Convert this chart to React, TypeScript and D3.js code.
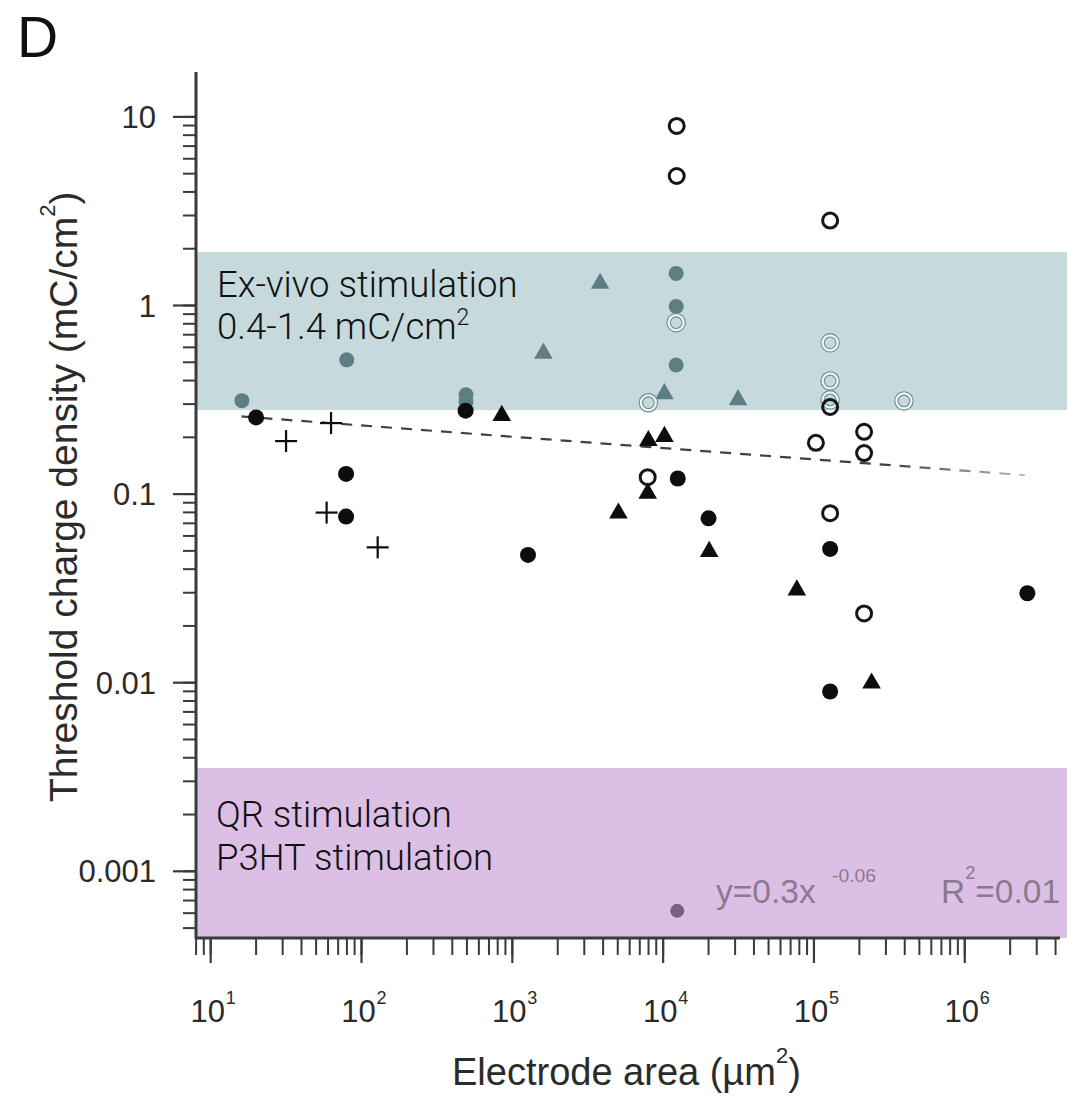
import React from "react";
import * as d3 from "d3";

const W = 1067;
const H = 1098;

// axis domains
const X_DOMAIN = [7.99, 4.28e6];
const Y_DOMAIN = [0.000443, 17.3];

const yTickValues = [10, 1, 0.1, 0.01, 0.001];
const yTickLabels = ["10", "1", "0.1", "0.01", "0.001"];
const xTickValues = [1e1, 1e2, 1e3, 1e4, 1e5, 1e6];
const xTickExponents = ["1", "2", "3", "4", "5", "6"];

// shaded ranges [low, high] in mC/cm²
const exVivoBand = [0.279, 1.92];
const qrBand = [0.000443, 0.00353];

// series: [electrode area µm², threshold mC/cm²]
const blackFilledCircles = [
  [20, 0.255], [79, 0.128], [79, 0.076], [1270, 0.0476], [490, 0.277],
  [12500, 0.121], [20000, 0.0744], [128000, 0.0512], [2.6e6, 0.0298], [128000, 0.00898],
];
const blackTriangles = [
  [851, 0.261], [7980, 0.192], [10200, 0.202], [7900, 0.101], [5050, 0.0792],
  [20200, 0.0496], [77000, 0.031], [241000, 0.00994],
];
const blackOpenCircles = [
  [12300, 8.96], [12300, 4.86], [128000, 2.82], [103000, 0.187], [215000, 0.214],
  [215000, 0.165], [7900, 0.123], [128000, 0.0792], [215000, 0.0233], [128000, 0.29],
];
const grayOpenCircles = [
  [12200, 0.811], [7980, 0.305], [128000, 0.634], [128000, 0.398], [128000, 0.316], [395000, 0.312],
];
const grayFilledCircles = [
  [16.1, 0.313], [12200, 1.48], [12200, 0.987], [12200, 0.484], [493, 0.336], [493, 0.309], [79.8, 0.515],
];
const grayTriangles = [
  [3820, 1.31], [1607, 0.558], [10190, 0.34], [31400, 0.316],
];
const plusMarks = [
  [31.6, 0.191], [62.8, 0.238], [58.7, 0.0798], [128, 0.0522],
];
const purpleCircles = [[12400, 0.000617]];

// fit line endpoints y=0.3x^-0.06
const fitLine = [[16, 0.258], [2.5e6, 0.126]];

const FONT = "'Liberation Sans', Arial, Helvetica, sans-serif";
const LIGHT = "Roboto, 'Liberation Sans', Arial, sans-serif";

export default function App() {
  const x = d3.scaleLog().domain(X_DOMAIN).range([196, 1060]);
  const y = d3.scaleLog().domain(Y_DOMAIN).range([938, 72]);

  const xMinor = x.ticks().filter((v) => x(v) >= 196 && x(v) <= 1060);
  const yMinor = y.ticks().filter((v) => y(v) >= 72 && y(v) <= 938);

  const tri = d3.symbol().type(d3.symbolTriangle).size(150)();
  const line = d3
    .line()
    .x((d) => x(d[0]))
    .y((d) => y(d[1]));

  const axisColor = "#3a3a3a";
  const textColor = "#2b2b2b";
  const gray = "#5d7f84";

  return (
    <svg width={W} height={H} style={{ display: "block", position: "absolute", left: 0, top: 0, background: "#fff" }}>
      <defs>
        <linearGradient id="fitGrad" gradientUnits="userSpaceOnUse" x1={x(3e5)} y1={0} x2={x(2.5e6)} y2={0}>
          <stop offset="0" stopColor="#404040" />
          <stop offset="1" stopColor="#bdbdbd" />
        </linearGradient>
      </defs>

      {/* panel label */}
      <text x={17} y={57} fontFamily={FONT} fontSize={57} fill="#111">D</text>

      {/* bands */}
      <rect x={197} y={y(exVivoBand[1])} width={W - 197} height={y(exVivoBand[0]) - y(exVivoBand[1])} fill="#c6d9dd" />
      <rect x={197} y={y(qrBand[1])} width={W - 197} height={y(qrBand[0]) - y(qrBand[1])} fill="#dcbfe4" />

      {/* band texts */}
      <g fontFamily={LIGHT} fontWeight={300} fontSize={36.5} fill="#111">
        <text x={217} y={297}>Ex-vivo stimulation</text>
        <text x={217} y={339}>
          0.4-1.4 mC/cm<tspan fontSize={23} dy={-14}>2</tspan>
        </text>
        <text x={216} y={827}>QR stimulation</text>
        <text x={216} y={870}>P3HT stimulation</text>
      </g>

      {/* fit line */}
      <path d={line(fitLine)} fill="none" stroke="url(#fitGrad)" strokeWidth={2.2} strokeDasharray="11 9" />

      {/* gray filled circles */}
      {grayFilledCircles.map((d, i) => (
        <circle key={"gf" + i} cx={x(d[0])} cy={y(d[1])} r={7.5} fill={gray} />
      ))}
      {/* gray triangles */}
      {grayTriangles.map((d, i) => (
        <path key={"gt" + i} d={tri} transform={`translate(${x(d[0])},${y(d[1])})`} fill={gray} />
      ))}
      {/* gray open circles */}
      {grayOpenCircles.map((d, i) => (
        <g key={"go" + i}>
          <circle cx={x(d[0])} cy={y(d[1])} r={7.5} fill="none" stroke="#6f8f93" strokeWidth={4.5} />
          <circle cx={x(d[0])} cy={y(d[1])} r={7.5} fill="none" stroke="#f2f6f6" strokeWidth={2.2} />
        </g>
      ))}
      {/* purple */}
      {purpleCircles.map((d, i) => (
        <circle key={"pu" + i} cx={x(d[0])} cy={y(d[1])} r={7} fill="#7d5f86" />
      ))}

      {/* black triangles */}
      {blackTriangles.map((d, i) => (
        <path key={"bt" + i} d={tri} transform={`translate(${x(d[0])},${y(d[1])})`} fill="#0d0d0d" />
      ))}
      {/* black filled circles */}
      {blackFilledCircles.map((d, i) => (
        <circle key={"bf" + i} cx={x(d[0])} cy={y(d[1])} r={8} fill="#0d0d0d" />
      ))}
      {/* black open circles */}
      {blackOpenCircles.map((d, i) => (
        <circle key={"bo" + i} cx={x(d[0])} cy={y(d[1])} r={7.5} fill="none" stroke="#151515" strokeWidth={3} />
      ))}
      {/* plus marks */}
      {plusMarks.map((d, i) => {
        const cx = x(d[0]);
        const cy = y(d[1]);
        return (
          <g key={"pl" + i} stroke="#0d0d0d" strokeWidth={2.2}>
            <line x1={cx - 11} x2={cx + 11} y1={cy} y2={cy} />
            <line x1={cx} x2={cx} y1={cy - 11} y2={cy + 11} />
          </g>
        );
      })}

      {/* equation */}
      <g fontFamily={FONT} fill="#8a7a90">
        <text x={716} y={903} fontSize={33} textLength={160} lengthAdjust="spacingAndGlyphs">
          y=0.3x<tspan fontSize={19} dx={16} dy={-21}>-0.06</tspan>
        </text>
        <text x={941} y={903} fontSize={33} textLength={119} lengthAdjust="spacingAndGlyphs">
          R<tspan fontSize={18} dy={-24}>2</tspan><tspan dy={24}>=0.01</tspan>
        </text>
      </g>

      {/* y axis */}
      <line x1={196} x2={196} y1={72} y2={939} stroke={axisColor} strokeWidth={3} />
      {yMinor.map((v, i) => (
        <line key={"ym" + i} x1={183} x2={196} y1={y(v)} y2={y(v)} stroke={axisColor} strokeWidth={2} />
      ))}
      {yTickValues.map((v, i) => (
        <g key={"yt" + i}>
          <line x1={173} x2={196} y1={y(v)} y2={y(v)} stroke={axisColor} strokeWidth={2.2} />
          <text x={156} y={y(v)} dy="0.36em" textAnchor="end" fontFamily={FONT} fontSize={31} fill={textColor}>
            {yTickLabels[i]}
          </text>
        </g>
      ))}

      {/* x axis */}
      <line x1={195} x2={1060} y1={938} y2={938} stroke={axisColor} strokeWidth={3} />
      {xMinor.map((v, i) => (
        <line key={"xm" + i} x1={x(v)} x2={x(v)} y1={938} y2={955} stroke={axisColor} strokeWidth={2} />
      ))}
      {xTickValues.map((v, i) => (
        <g key={"xt" + i}>
          <line x1={x(v)} x2={x(v)} y1={938} y2={963} stroke={axisColor} strokeWidth={2.2} />
          <text x={x(v) - 3} y={1022} textAnchor="middle" fontFamily={FONT} fontSize={31} fill={textColor}>
            10
          </text>
          <text x={x(v) + 15} y={1004} fontFamily={FONT} fontSize={18} fill={textColor}>
            {xTickExponents[i]}
          </text>
        </g>
      ))}

      {/* axis titles */}
      <text x={452} y={1085} fontFamily={FONT} fontSize={38} fill={textColor}>
        Electrode area (µm<tspan fontSize={22} dy={-22}>2</tspan><tspan dy={22}>)</tspan>
      </text>
      <text
        transform={`translate(77, 802) rotate(-90)`}
        fontFamily={FONT}
        fontSize={39}
        fill={textColor}
      >
        Threshold charge density (mC/cm<tspan fontSize={22} dy={-22}>2</tspan><tspan dy={22}>)</tspan>
      </text>
    </svg>
  );
}
